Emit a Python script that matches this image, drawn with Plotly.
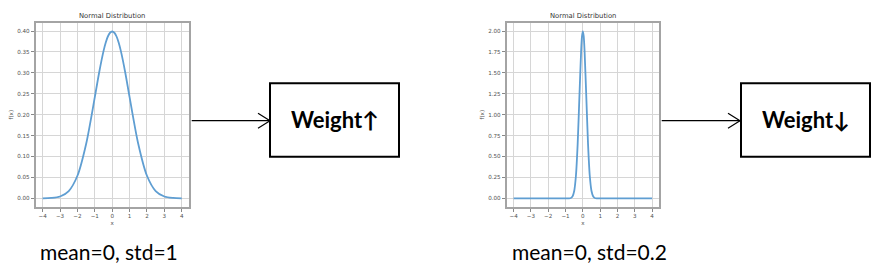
import plotly.graph_objects as go

# ---- data ----
x_std1 = [-4, -3.5, -3, -2.5, -2, -1.5, -1, -0.75, -0.5, -0.375, -0.25, -0.125, 0,
          0.125, 0.25, 0.375, 0.5, 0.75, 1, 1.5, 2, 2.5, 3, 3.5, 4]
y_std1 = [0.0001, 0.0009, 0.0044, 0.0175, 0.054, 0.130, 0.242, 0.301, 0.352, 0.372, 0.387, 0.396, 0.399,
          0.396, 0.387, 0.372, 0.352, 0.301, 0.242, 0.130, 0.054, 0.0175, 0.0044, 0.0009, 0.0001]

x_std02 = [-4, -2, -1, -0.8, -0.7, -0.6, -0.5, -0.4, -0.3, -0.2, -0.1, -0.05, 0,
           0.05, 0.1, 0.2, 0.3, 0.4, 0.5, 0.6, 0.7, 0.8, 1, 2, 4]
y_std02 = [0, 0, 0, 0.0007, 0.0044, 0.022, 0.088, 0.270, 0.648, 1.210, 1.760, 1.936, 1.995,
           1.936, 1.760, 1.210, 0.648, 0.270, 0.088, 0.022, 0.0044, 0.0007, 0, 0, 0]

x_ticks = [-4, -3, -2, -1, 0, 1, 2, 3, 4]
y_ticks_1 = [0.00, 0.05, 0.10, 0.15, 0.20, 0.25, 0.30, 0.35, 0.40]
y_ticks_2 = [0.00, 0.25, 0.50, 0.75, 1.00, 1.25, 1.50, 1.75, 2.00]

plot_title = "Normal Distribution"
captions = ["mean=0, std=1", "mean=0, std=0.2"]
box_labels = ["Weight↑", "Weight↓"]

W, H = 883, 277
def px(x):
    return x / W
def py(y):
    return 1 - y / H

line_color = "rgb(95,158,210)"
tick_font = dict(family="DejaVu Sans", size=5.6, color="#505050")

fig = go.Figure()
fig.add_trace(go.Scatter(x=x_std1, y=y_std1, mode="lines", xaxis="x", yaxis="y",
                         line=dict(color=line_color, width=1.8, shape="spline", smoothing=0.8),
                         showlegend=False, hoverinfo="x+y"))
fig.add_trace(go.Scatter(x=x_std02, y=y_std02, mode="lines", xaxis="x2", yaxis="y2",
                         line=dict(color=line_color, width=1.8, shape="spline", smoothing=0.6),
                         showlegend=False, hoverinfo="x+y"))

def xaxis(domain, anchor):
    return dict(domain=domain, anchor=anchor, range=[-4.4, 4.4], tickvals=x_ticks,
                ticktext=[("−" + str(abs(v))) if v < 0 else str(v) for v in x_ticks],
                showgrid=True, gridcolor="#d6d6d6", gridwidth=1.2, zeroline=False,
                showline=True, linecolor="#a4a4a4", linewidth=1.8, mirror=True,
                ticks="outside", ticklen=3, tickcolor="#888888", tickwidth=1,
                tickfont=tick_font,
                title=dict(text="x", font=tick_font, standoff=3))

def yaxis(domain, anchor, rng, vals):
    return dict(domain=domain, anchor=anchor, range=rng, tickvals=vals,
                ticktext=[f"{v:.2f}" for v in vals],
                showgrid=True, gridcolor="#d6d6d6", gridwidth=1.2, zeroline=False,
                showline=True, linecolor="#a4a4a4", linewidth=1.8, mirror=True,
                ticks="outside", ticklen=3, tickcolor="#888888", tickwidth=1,
                tickfont=tick_font,
                title=dict(text="f(x)", font=tick_font, standoff=3))

ydom = [py(206.7), py(22.7)]
fig.update_layout(
    width=W, height=H,
    margin=dict(l=0, r=0, t=0, b=0),
    paper_bgcolor="white", plot_bgcolor="white",
    showlegend=False,
    xaxis=xaxis([px(35.7), px(188.7)], "y"),
    yaxis=yaxis(ydom, "x", [-0.02, 0.42], y_ticks_1),
    xaxis2=xaxis([px(506.7), px(659)], "y2"),
    yaxis2=yaxis(ydom, "x2", [-0.1, 2.1], y_ticks_2),
)

annotations = []
shapes = []

title_font = dict(family="DejaVu Sans", size=6.8, color="#333333")
caption_font = dict(family="Lato", size=21, color="black")
label_font = dict(family="Lato", size=22, color="black", weight="bold")

panels = [
    dict(title_x=112, cap_x=109, arrow_x0=191.7, arrow_x1=270, box=(270, 399)),
    dict(title_x=583, cap_x=589, arrow_x0=661.7, arrow_x1=740, box=(741, 870)),
]
for i, p in enumerate(panels):
    annotations.append(dict(xref="paper", yref="paper", x=px(p["title_x"]), y=py(16),
                            text=plot_title, showarrow=False, font=title_font,
                            xanchor="center", yanchor="middle"))
    annotations.append(dict(xref="paper", yref="paper", x=px(p["cap_x"]), y=py(251),
                            text=captions[i], showarrow=False, font=caption_font,
                            xanchor="center", yanchor="middle"))
    bx0, bx1 = p["box"]
    annotations.append(dict(xref="paper", yref="paper", x=px((bx0 + bx1) / 2), y=py(120),
                            text=box_labels[i], showarrow=False, font=label_font,
                            xanchor="center", yanchor="middle"))
    # box
    shapes.append(dict(type="rect", xref="paper", yref="paper",
                       x0=px(bx0), x1=px(bx1), y0=py(156.7), y1=py(83.3),
                       line=dict(color="black", width=2), fillcolor="rgba(0,0,0,0)"))
    # arrow shaft
    ay = 120.7
    shapes.append(dict(type="line", xref="paper", yref="paper",
                       x0=px(p["arrow_x0"]), x1=px(p["arrow_x1"]), y0=py(ay), y1=py(ay),
                       line=dict(color="black", width=1.2)))
    # open chevron head
    tip = p["arrow_x1"]
    shapes.append(dict(type="path", xref="paper", yref="paper",
                       path=f"M {px(tip-12)} {py(ay-7.5)} L {px(tip)} {py(ay)} L {px(tip-12)} {py(ay+7.5)}",
                       line=dict(color="black", width=1.2)))

fig.update_layout(annotations=annotations, shapes=shapes)
fig.write_html("out.html")
